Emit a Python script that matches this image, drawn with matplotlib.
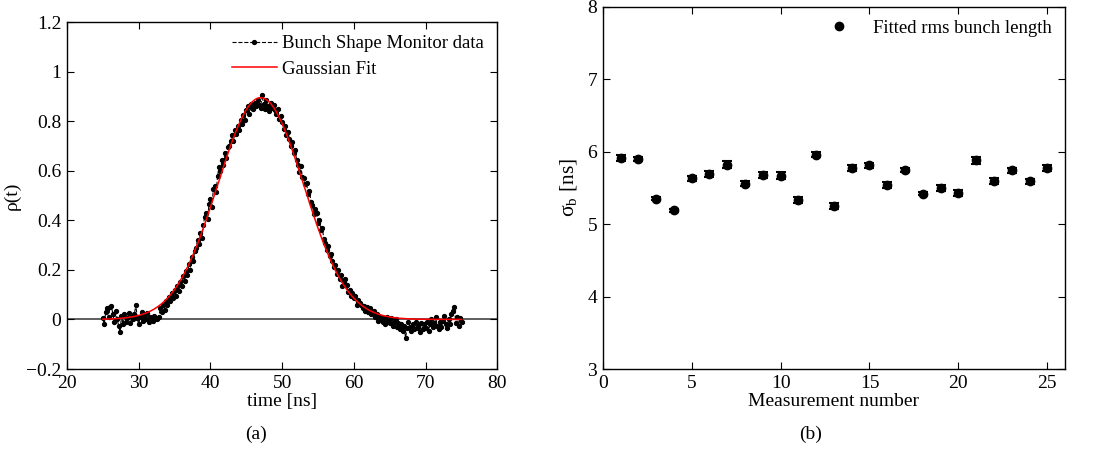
import numpy as np
import matplotlib
matplotlib.use('Agg')
import matplotlib.pyplot as plt
from matplotlib.ticker import FuncFormatter
from matplotlib.lines import Line2D

plt.rcParams['font.family'] = ['Liberation Serif', 'DejaVu Serif']
plt.rcParams['mathtext.fontset'] = 'custom'
plt.rcParams['mathtext.rm'] = 'Liberation Serif'
plt.rcParams['mathtext.it'] = 'Liberation Serif:italic'
plt.rcParams['axes.unicode_minus'] = True

# --- panel (a): bunch shape monitor profile, 0.2 ns sampling from 25 to 75 ns
t_start, t_stop = 25.0, 75.0
rho = [
    0.005, -0.02, 0.03, 0.045, 0.01,
    0.05, 0.055, 0.02, -0.01, 0.035,
    0.0, -0.025, -0.05, 0.015, -0.02,
    0.02, -0.01, 0.005, 0.025, -0.015,
    0.01, 0.0, 0.02, 0.06, 0.005,
    -0.02, 0.01, 0.03, -0.005, 0.015,
    0.0, 0.025, -0.01, 0.01, 0.0,
    -0.005, 0.015, 0.005, 0.0, 0.01,
    0.045, 0.03, 0.06, 0.04, 0.075,
    0.06, 0.09, 0.075, 0.105, 0.085,
    0.12, 0.095, 0.135, 0.115, 0.15,
    0.135, 0.175, 0.155, 0.195, 0.18,
    0.225, 0.20, 0.25, 0.235, 0.275,
    0.29, 0.32, 0.305, 0.35, 0.33,
    0.38, 0.415, 0.43, 0.405, 0.465,
    0.485, 0.455, 0.525, 0.54, 0.515,
    0.58, 0.615, 0.60, 0.645, 0.625,
    0.67, 0.65, 0.695, 0.70, 0.72,
    0.745, 0.72, 0.765, 0.75, 0.78,
    0.765, 0.805, 0.79, 0.825, 0.805,
    0.845, 0.86, 0.83, 0.87, 0.855,
    0.85, 0.875, 0.86, 0.885, 0.865,
    0.855, 0.905, 0.87, 0.85, 0.885,
    0.86, 0.84, 0.875, 0.855, 0.865,
    0.845, 0.83, 0.85, 0.81, 0.82,
    0.795, 0.77, 0.78, 0.745, 0.755,
    0.73, 0.70, 0.715, 0.67, 0.685,
    0.645, 0.625, 0.595, 0.62, 0.575,
    0.57, 0.545, 0.55, 0.505, 0.52,
    0.475, 0.46, 0.425, 0.445, 0.43,
    0.39, 0.40, 0.36, 0.37, 0.325,
    0.31, 0.28, 0.295, 0.255, 0.265,
    0.235, 0.21, 0.22, 0.185, 0.20,
    0.165, 0.18, 0.135, 0.15, 0.165,
    0.14, 0.11, 0.12, 0.095, 0.105,
    0.085, 0.095, 0.06, 0.08, 0.065,
    0.06, 0.045, 0.055, 0.035, 0.05,
    0.03, 0.045, 0.02, 0.025, 0.035,
    0.01, 0.02, -0.005, 0.01, 0.0,
    -0.01, 0.005, -0.02, 0.01, -0.005,
    -0.015, 0.005, -0.025, -0.01, 0.0,
    -0.03, -0.015, -0.04, -0.02, -0.045,
    -0.025, -0.075, -0.035, -0.01, -0.03,
    -0.045, -0.02, -0.04, -0.01, -0.035,
    -0.025, -0.05, -0.015, -0.04, -0.02,
    -0.035, -0.01, -0.045, -0.02, 0.0,
    -0.03, -0.015, 0.01, -0.025, -0.04,
    -0.01, -0.03, -0.005, 0.015, -0.02,
    -0.035, 0.0, -0.02, 0.02, 0.035,
    0.05, -0.015, 0.01, -0.025, 0.005,
    -0.01,
]
time_ns = np.linspace(t_start, t_stop, len(rho))

# Gaussian fit parameters
fit_amp = 0.895
fit_mu = 47.0
fit_sigma = 6.0

# --- panel (b): fitted rms bunch length per measurement
meas_no = list(range(1, 26))
sigma_b = [5.91, 5.90, 5.35, 5.19, 5.63, 5.69, 5.82, 5.56, 5.68, 5.67,
           5.33, 5.96, 5.25, 5.77, 5.81, 5.54, 5.75, 5.42, 5.50, 5.43,
           5.88, 5.59, 5.74, 5.59, 5.77]
sigma_err = [0.04, 0.03, 0.02, 0.02, 0.04, 0.04, 0.05, 0.04, 0.04, 0.05,
             0.04, 0.04, 0.04, 0.04, 0.04, 0.04, 0.03, 0.02, 0.04, 0.04,
             0.05, 0.04, 0.04, 0.03, 0.04]

fig = plt.figure(figsize=(10.98, 4.5), dpi=100)
ax1 = fig.add_axes([0.061, 0.18, 0.392, 0.771])
ax2 = fig.add_axes([0.549, 0.18, 0.421, 0.805])

fs = 14

# panel (a)
ax1.axhline(0, color='#333333', lw=1.1, zorder=1)
ax1.plot(time_ns, rho, '--', color='black', marker='o', markersize=2.8,
         lw=0.8, label='Bunch Shape Monitor data', zorder=2)
tt = np.linspace(t_start, t_stop, 400)
ax1.plot(tt, fit_amp * np.exp(-(tt - fit_mu) ** 2 / (2 * fit_sigma ** 2)),
         color='red', lw=1.1, label='Gaussian Fit', zorder=3)
ax1.set_xlim(20, 80)
ax1.set_ylim(-0.2, 1.2)
ax1.set_xticks(np.arange(20, 81, 10))
ax1.set_yticks(np.arange(-0.2, 1.21, 0.2))
ax1.yaxis.set_major_formatter(FuncFormatter(lambda v, p: ('%g' % round(v, 2)).replace('-', '\u2212')))
ax1.set_xlabel('time [ns]', fontsize=fs, labelpad=1)
ax1.set_ylabel('\u03c1(t)', fontsize=fs, labelpad=4)
ax1.legend(loc='upper right', frameon=False, fontsize=fs - 0.5, handlelength=2.4,
           handletextpad=0.3, borderaxespad=0.3, labelspacing=0.45)

# panel (b)
ax2.errorbar(meas_no, sigma_b, yerr=sigma_err, fmt='o', color='black',
             markersize=6, capsize=3.5, elinewidth=1.5, capthick=1.5)
ax2.set_xlim(0, 26)
ax2.set_ylim(3, 8)
ax2.set_xticks([0, 5, 10, 15, 20, 25])
ax2.set_yticks([3, 4, 5, 6, 7, 8])
ax2.set_xlabel('Measurement number', fontsize=fs, labelpad=1)
ax2.set_ylabel('\u03c3$_{\\rm b}$ [ns]', fontsize=fs + 1.5, labelpad=6)
handle = Line2D([], [], ls='none', marker='o', color='black', markersize=6)
ax2.legend([handle], ['Fitted rms bunch length'], loc='upper right', frameon=False,
           fontsize=fs - 0.5, handletextpad=0.8, borderaxespad=0.3)

for ax in (ax1, ax2):
    ax.tick_params(direction='in', top=True, right=True, length=5,
                   width=0.8, labelsize=fs, pad=4)
    for s in ax.spines.values():
        s.set_linewidth(1.0)

fig.text(0.2335, 0.035, '(a)', ha='center', va='center', fontsize=fs)
fig.text(0.7385, 0.035, '(b)', ha='center', va='center', fontsize=fs)

fig.savefig('out.png', dpi=100)
